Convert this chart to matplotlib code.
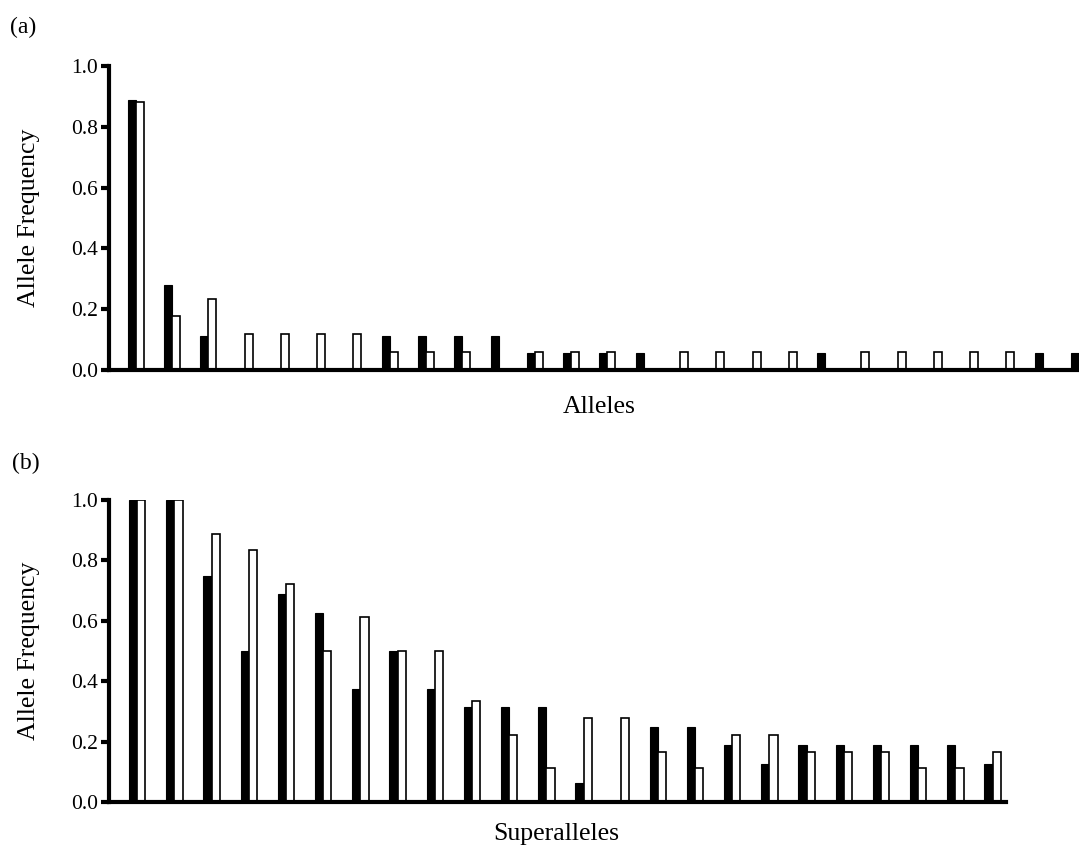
import numpy as np
import matplotlib
matplotlib.use("Agg")
import matplotlib.pyplot as plt

# (a) allele frequencies, black and white series
alleles_black = [0.889, 0.278, 0.111, 0, 0, 0, 0, 0.111, 0.111, 0.111, 0.111,
                 0.056, 0.056, 0.056, 0.056, 0, 0, 0, 0, 0.056, 0, 0, 0, 0, 0,
                 0.056, 0.056]
alleles_white = [0.882, 0.176, 0.235, 0.118, 0.118, 0.118, 0.118, 0.059, 0.059,
                 0.059, 0, 0.059, 0.059, 0.059, 0, 0.059, 0.059, 0.059, 0.059, 0,
                 0.059, 0.059, 0.059, 0.059, 0.059, 0, 0]

# (b) superallele frequencies
super_black = [1.0, 1.0, 0.75, 0.5, 0.688, 0.625, 0.375, 0.5, 0.375, 0.313,
               0.313, 0.313, 0.063, 0, 0.25, 0.25, 0.188, 0.125, 0.188, 0.188,
               0.188, 0.188, 0.188, 0.125]
super_white = [1.0, 1.0, 0.889, 0.833, 0.722, 0.5, 0.611, 0.5, 0.5, 0.333,
               0.222, 0.111, 0.278, 0.278, 0.167, 0.111, 0.222, 0.222, 0.167,
               0.167, 0.167, 0.111, 0.111, 0.167]

yticks = [0.0, 0.2, 0.4, 0.6, 0.8, 1.0]

plt.rcParams["font.family"] = ["Liberation Serif", "DejaVu Serif"]

W, H = 1079, 846
fig = plt.figure(figsize=(W / 100, H / 100), dpi=100)


def px_axes(left, right, top, bottom):
    return fig.add_axes([left / W, 1 - bottom / H, (right - left) / W, (bottom - top) / H])


def draw_panel(ax, black, white, xlim):
    x = np.arange(len(black))
    w = 0.22
    ax.bar(x - w / 2, black, width=w, color="black", edgecolor="black", linewidth=0.8)
    ax.bar(x + w / 2, white, width=w, color="white", edgecolor="black", linewidth=1.2)
    ax.set_xlim(*xlim)
    ax.set_ylim(0, 1.0)
    ax.set_yticks(yticks)
    ax.set_yticklabels(["%.1f" % v for v in yticks], fontsize=15.5)
    ax.set_xticks([])
    for s in ["top", "right"]:
        ax.spines[s].set_visible(False)
    for s in ["left", "bottom"]:
        ax.spines[s].set_linewidth(3)
    ax.tick_params(axis="y", direction="out", length=6, width=3, pad=2)


ax1 = px_axes(109, 1079, 66, 370)
draw_panel(ax1, alleles_black, alleles_white, (-0.74, 26.0))
ax1.spines["left"].set_bounds(0, 1.0)

ax2 = px_axes(109, 1006, 500, 802)
draw_panel(ax2, super_black, super_white, (-0.76, 23.36))

# labels
fig.text(10 / W, 1 - 27 / H, "(a)", fontsize=17, ha="left", va="center")
fig.text(12 / W, 1 - 463 / H, "(b)", fontsize=17, ha="left", va="center")
fig.text(29 / W, 1 - 218 / H, "Allele Frequency", fontsize=18.5, rotation=90,
         ha="center", va="center")
fig.text(29 / W, 1 - 651 / H, "Allele Frequency", fontsize=18.5, rotation=90,
         ha="center", va="center")
fig.text(599 / W, 1 - 413 / H, "Alleles", fontsize=18.5, ha="center", va="baseline")
fig.text(556 / W, 1 - 840 / H, "Superalleles", fontsize=18.5, ha="center", va="baseline")

fig.savefig("out.png", dpi=100)
